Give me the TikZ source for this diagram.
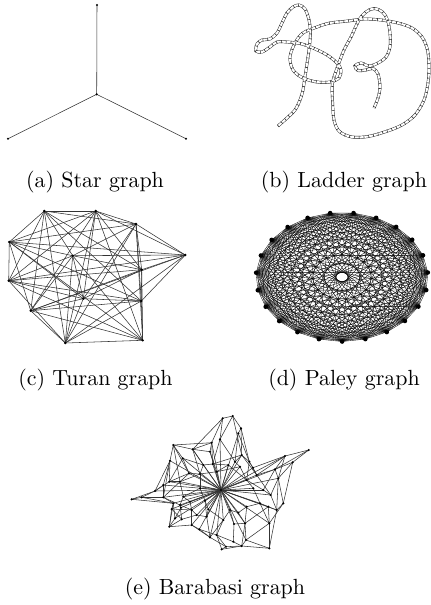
\documentclass[tikz,border=0pt]{standalone}
\tikzset{
  edge/.style={line width=0.25pt, black!80},
  subcap/.style={anchor=base},
  rails/.style={line width=0.2pt, black!85, double=white, double distance=0.9pt},
  rungs/.style={line width=1.3pt, black!85, dash pattern=on 0.25pt off 1.95pt}
}
\def\ladderpath{plot[smooth, tension=0.55] coordinates {
  (278,126) (287,118) (295,110) (300,100) (303,90) (304.5,80) (306.5,67)
  (309,50) (310.5,33) (309,20) (305,9) (299,5) (293,7) (287,13) (282,23)
  (277,33) (270,39) (262,40) (257,44) (256,51) (262,52) (270,47) (277,42)
  (287,42) (300,43.5) (313,48) (327,55) (337,63) (341,70) (339,78) (330,82)
  (317,82) (303,78) (293,70) (290,57) (295,43) (303,33) (317,27) (330,23)
  (348,21) (364,19) (381,20) (398,23) (412,28) (422,37) (427.5,50) (429,67)
  (428,83) (424,100) (415,115) (402,125) (386,131.5) (368,136.5) (352,137)
  (339.5,131.5) (334,120) (332.5,100) (332.5,83) (337.5,67) (344,50) (351,37)
  (359,20) (366,12) (374,8.5) (382.5,12) (387.5,20) (390,33) (390,47)
  (386,57) (378,63) (369,66) (361,63) (355,66) (358,70.5) (366,70) (373,68.5)
  (378,74) (380,87) (378,98) (374,108)}}
\begin{document}
\begin{tikzpicture}[x=0.456pt, y=-0.456pt]
\useasboundingbox (0,0) rectangle (431,605);

% (a) star
\coordinate (sc) at (96.7,94.3);
\coordinate (s1) at (97,5);
\coordinate (s2) at (8,138.7);
\coordinate (s3) at (186,138.7);
\foreach \v in {s1,s2,s3} \draw[edge] (sc) -- (\v);
\foreach \v in {sc,s1,s2,s3} \fill (\v) circle (0.55pt);
\node[subcap] (capa) at (95,187) {(a) Star graph};

% (b) ladder
\draw[rails] \ladderpath;
\draw[rungs] \ladderpath;
\node[subcap] (capb) at (344,187) {(b) Ladder graph};

% (c) turan
\foreach \n/\x/\y in {a1/44.3/211, a2/185.3/255, a3/83.3/298.7, a4/142.7/340.3,
  b1/95.7/211, b2/72.7/255.7, b3/141.3/301,
  c1/136/224, c2/8.7/280.7, c3/30.7/310.7,
  d1/9.3/242, d2/141.7/269.7, d3/65.3/343}
  \coordinate (\n) at (\x,\y);
\foreach \u in {a1,a2,a3,a4}
  \foreach \v in {b1,b2,b3,c1,c2,c3,d1,d2,d3} \draw[edge] (\u) -- (\v);
\foreach \u in {b1,b2,b3}
  \foreach \v in {c1,c2,c3,d1,d2,d3} \draw[edge] (\u) -- (\v);
\foreach \u in {c1,c2,c3}
  \foreach \v in {d1,d2,d3} \draw[edge] (\u) -- (\v);
\foreach \v in {a1,a2,a3,a4,b1,b2,b3,c1,c2,c3,d1,d2,d3} \fill (\v) circle (0.6pt);
\node[subcap] (capc) at (95.5,385) {(c) Turan graph};

% (d) paley, 23 vertices
\foreach \i in {0,...,22}
  \coordinate (p\i) at ({342+86*cos(360/23*\i+4)},{277-64.5*sin(360/23*\i+4)});
\foreach \i in {0,...,21} {
  \pgfmathtruncatemacro\nxt{\i+1}
  \foreach \j in {\nxt,...,22} \draw[line width=0.16pt] (p\i) -- (p\j);
}
\foreach \i in {0,...,22} \fill (p\i) circle (1.05pt);
\node[subcap] (capd) at (344,385) {(d) Paley graph};

% (e) barabasi
\foreach \n/\x/\y in {h/221/490, t1/222.7/418.3, t2/232.7/416, t3/241/428.3,
  t4/238.3/433.3, t5/220/439.3, t6/211.7/442.7,
  u1/173.3/445, u2/192.7/449.3, u3/210/451.7, u4/182.7/458.3, u5/170/460.7,
  u6/203.3/465, u7/212.7/464, u8/189/473.3, u9/216.7/471.7, u10/200/474,
  l1/169.3/481.7, l2/180/481.7, l3/200/488.3, l4/155/491, l5/141.7/497.3,
  l6/163.3/497.3, l7/183.3/496.7, l8/190/501.7, l9/173.3/503.3, l10/180/505,
  l11/205/500.7, l12/171.7/509, l13/191.7/510, l14/208.3/509.3, l15/131.7/499.3,
  l16/163.3/485, l17/181/507.7,
  d1/181.7/519.3, d2/196.7/515, d3/206.7/516.7, d4/169.3/526.7, d5/191.7/525,
  d6/199.3/529.3, d7/210/537.3, d8/175/518.3,
  r1/241.7/455, r2/249.3/461.7, r3/228.3/465, r4/235/461.7, r5/240/466.7,
  r6/308.7/450, r7/285/456, r8/292.7/462.3, r9/275/469.3, r10/256.7/475,
  r11/278.3/478.3, r12/246.7/480, r13/253/467.7,
  m1/253.3/488.3, m2/263.3/490, m3/270.7/495, m4/283.3/503.3, m5/246.7/506.7,
  m6/260/503.3, m7/268.3/506.7, m8/276.7/510, m9/238.3/512.7, m10/230/510,
  b1/269.3/523.3, b2/245/523.3, b3/234/524, b4/223.3/520, b6/216.7/535,
  b7/246/540, b8/233.3/541.7, b9/226/546.7, b10/221.7/549.3, b11/241.7/546,
  b12/269.3/548.3}
  \coordinate (\n) at (\x,\y);
\foreach \v in {t4,t5,t6,u2,u3,u4,u5,u6,u7,u8,u9,u10,l1,l2,l3,l4,l6,l7,l8,l9,
  l10,l11,l12,l13,l14,l16,l17,d2,d3,d5,d6,d7,d8,r1,r3,r4,r5,r7,r9,r10,r11,r12,
  r13,m1,m2,m3,m5,m6,m7,m8,m9,m10,b1,b2,b3,b4,b6,b7}
  \draw[edge] (h) -- (\v);
\foreach \u/\v in {t1/t5, t1/t6, t2/t3, t2/t5, t2/t1, t3/t4, t4/r2, t4/r4,
  t6/u3, t5/u7, u1/u2, u2/u3, u1/u5, u1/u4, u4/u8, u5/l1, u2/u6, u4/u6,
  u6/u10, u8/l2, u10/u9, u9/r3, u5/l4, u1/u8, l1/l4, l4/l5, l5/l9, l15/l4,
  l15/l9, l6/l9, l9/l12, l12/d4, l2/l7, l7/l8, l10/l13, l12/d1, d1/d2, d1/d4,
  d4/d5, l6/l2, l13/d5, d5/d6, d6/d7, d2/d3, l11/d3, l3/l7, l14/d3, l6/l10,
  r6/r7, r6/r8, r7/r10, r8/r9, r9/r11, r11/m4, m4/b1, b1/b12, b12/b11,
  b11/b10, b10/b9, b7/b2, b2/b3, b8/b11, b9/b6, r1/r2, r1/r4, r5/r12,
  r2/r10, m2/m3, m3/m8, m8/m7, m6/m7, m7/b1, m5/m9, m9/b2, m10/b3, b4/b6,
  b7/b12, r11/m3, r9/r10, r12/m1, d7/b9, b8/b6, b2/b11, r8/m4, r7/r9,
  u1/l2, u2/u10, u3/u9, t6/u7, t5/r4, t3/r1, u7/r3, u9/r5, r4/r5, r1/r10,
  r2/r12, r12/m2, m1/m6, m6/m5, m5/b2, m9/m10, m10/b4, b4/d7, b3/b8, b6/b10,
  b7/b11, d6/b6, d3/d7, l14/b4, l11/l14, l3/l11, l8/l13, l7/l10, l12/l13,
  l1/l2, l1/u8, l2/u10, u10/l3, u6/u7, u8/u10, d5/d7, d2/l13, d1/l10,
  l5/l6, l15/l5, r9/m2, r10/m3, r11/m8, m4/m8, b1/b7, m7/b2, r7/r11, r8/r11,
  r6/r9, t2/r1, t1/u2, t6/u2, u1/t6, u4/l1, d4/l9, m6/b1, b12/m8, b11/b9,
  l16/l4, l16/u5, l16/l6, l17/d8, d8/d4, l17/l10, r13/r2, r13/r10, r13/r7,
  u5/l6, l9/d8, t3/r2, r3/r12, u7/r1}
  \draw[edge] (\u) -- (\v);
\foreach \v in {h,t1,t2,t3,t4,t5,t6,u1,u2,u3,u4,u5,u6,u7,u8,u9,u10,
  l1,l2,l3,l4,l5,l6,l7,l8,l9,l10,l11,l12,l13,l14,l15,l16,l17,d1,d2,d3,d4,d5,
  d6,d7,d8,r1,r2,r3,r4,r5,r6,r7,r8,r9,r10,r11,r12,r13,m1,m2,m3,m4,m5,m6,m7,m8,
  m9,m10,b1,b2,b3,b4,b6,b7,b8,b9,b10,b11,b12}
  \fill (\v) circle (0.55pt);
\node[subcap] (cape) at (215,594) {(e) Barabasi graph};
\end{tikzpicture}
\end{document}
